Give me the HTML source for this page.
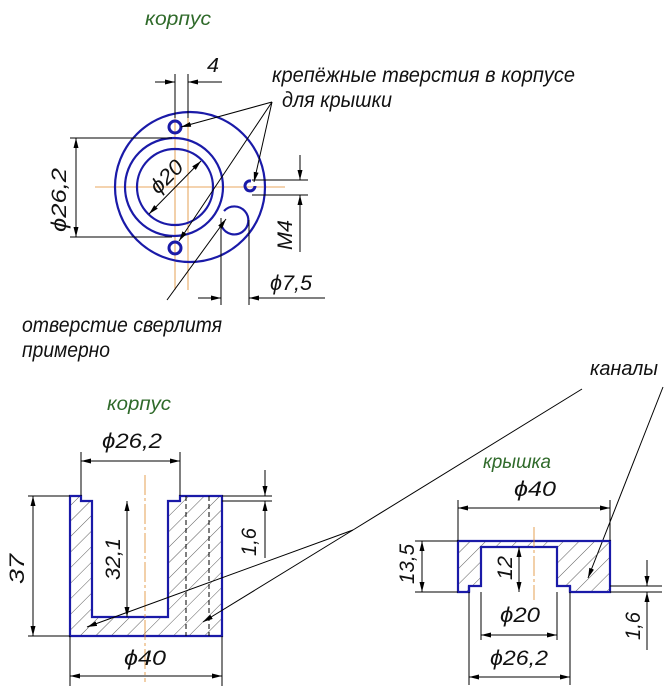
<!DOCTYPE html>
<html><head><meta charset="utf-8"><style>
html,body{margin:0;padding:0;background:#fff}
svg{display:block}
text{font-family:"Liberation Sans","Noto Sans CJK SC",sans-serif;font-style:italic;fill:#111}
.g{fill:#2f6a2a}
</style></head><body>
<svg width="667" height="687" viewBox="0 0 667 687" xmlns="http://www.w3.org/2000/svg">
<defs>
<marker id="a" viewBox="0 0 10 6" refX="10" refY="3" markerWidth="10" markerHeight="6" markerUnits="userSpaceOnUse" orient="auto-start-reverse"><path d="M0,0.5L10,3L0,5.5z" fill="#000"/></marker>
<pattern id="h" width="11" height="11" patternUnits="userSpaceOnUse" patternTransform="rotate(45)"><line x1="0" y1="0" x2="0" y2="11" stroke="#333" stroke-width="0.8"/></pattern>
</defs>
<g stroke="#000" stroke-width="1" fill="none">
<!-- TOP VIEW -->
<g stroke="#e08a2a" stroke-width="0.8">
<line x1="175" y1="95" x2="175" y2="290"/><line x1="188" y1="95" x2="188" y2="290"/>
<line x1="95" y1="187" x2="285" y2="187"/>
</g>
<g stroke="#1a1aa8" stroke-width="2.2">
<circle cx="190" cy="187" r="75"/>
<circle cx="174" cy="187" r="49"/>
<circle cx="175" cy="187" r="38"/>
<circle cx="175" cy="127" r="6" stroke-width="3"/>
<circle cx="175" cy="248" r="6" stroke-width="3"/>
<path d="M255,186 A5,5 0 1 1 251,181" stroke-width="3"/>
<path d="M224,211 A14,14 0 1 1 222,227"/>
</g>
<!-- dim 4 -->
<line x1="175" y1="74" x2="175" y2="118"/><line x1="188" y1="74" x2="188" y2="118"/>
<line x1="155" y1="82" x2="175" y2="82" marker-end="url(#a)"/><line x1="222" y1="82" x2="188" y2="82" marker-end="url(#a)"/>
<!-- dim 26,2 -->
<line x1="70" y1="138" x2="172" y2="138"/><line x1="70" y1="237" x2="172" y2="237"/>
<line x1="76" y1="138" x2="76" y2="237" marker-start="url(#a)" marker-end="url(#a)"/>
<!-- phi20 -->
<line x1="149" y1="214" x2="201" y2="161" marker-start="url(#a)" marker-end="url(#a)"/>
<!-- M4 -->
<line x1="252" y1="180" x2="308" y2="180"/><line x1="252" y1="195" x2="308" y2="195"/>
<line x1="300" y1="155" x2="300" y2="180" marker-end="url(#a)"/><line x1="300" y1="252" x2="300" y2="195" marker-end="url(#a)"/>
<!-- 7.5 -->
<line x1="221" y1="218" x2="221" y2="305"/><line x1="249" y1="220" x2="249" y2="305"/>
<line x1="198" y1="298" x2="221" y2="298" marker-end="url(#a)"/><line x1="325" y1="298" x2="249" y2="298" marker-end="url(#a)"/>
<!-- leaders -->
<line x1="272" y1="102" x2="181" y2="127" marker-end="url(#a)"/>
<line x1="272" y1="102" x2="254" y2="182" marker-end="url(#a)"/>
<line x1="272" y1="102" x2="179" y2="241" marker-end="url(#a)"/>
<line x1="167" y1="300" x2="226" y2="219" marker-end="url(#a)"/>

<!-- LEFT SECTION -->
<path d="M70,496H81V501H92V617H168V501H180V496H222V636H70Z" fill="url(#h)" stroke="#1a1aa8" stroke-width="2.2"/>
<line x1="186" y1="496" x2="186" y2="636" stroke-dasharray="5,3"/>
<line x1="209" y1="496" x2="209" y2="636" stroke-dasharray="5,3"/>
<line x1="145" y1="475" x2="145" y2="682" stroke="#e08a2a" stroke-width="0.8" stroke-dasharray="20,3,3,3"/>
<line x1="81" y1="452" x2="81" y2="496"/><line x1="180" y1="452" x2="180" y2="496"/>
<line x1="81" y1="461" x2="180" y2="461" marker-start="url(#a)" marker-end="url(#a)"/>
<line x1="28" y1="496" x2="70" y2="496"/><line x1="28" y1="636" x2="70" y2="636"/>
<line x1="33" y1="496" x2="33" y2="636" marker-start="url(#a)" marker-end="url(#a)"/>
<line x1="127" y1="501" x2="127" y2="617" marker-start="url(#a)" marker-end="url(#a)"/>
<line x1="222" y1="496" x2="272" y2="496"/><line x1="222" y1="501" x2="272" y2="501"/>
<line x1="265" y1="470" x2="265" y2="496" marker-end="url(#a)"/><line x1="265" y1="558" x2="265" y2="501" marker-end="url(#a)"/>
<line x1="70" y1="636" x2="70" y2="686"/><line x1="222" y1="636" x2="222" y2="686"/>
<line x1="70" y1="676" x2="222" y2="676" marker-start="url(#a)" marker-end="url(#a)"/>
<!-- kanaly leaders -->
<polyline points="582,389 353,530"/>
<line x1="353" y1="530" x2="87" y2="627" marker-end="url(#a)"/>
<line x1="353" y1="530" x2="203" y2="622" marker-end="url(#a)"/>
<line x1="663" y1="387" x2="588" y2="578" marker-end="url(#a)"/>

<!-- CAP SECTION -->
<path d="M458,541H610V592H570V586H557V547H481V586H469V592H458Z" fill="url(#h)" stroke="#1a1aa8" stroke-width="2.2"/>
<line x1="469" y1="586" x2="469" y2="592" stroke="#1a1aa8" stroke-width="2.2"/>
<line x1="570" y1="586" x2="570" y2="592" stroke="#1a1aa8" stroke-width="2.2"/>
<line x1="534" y1="527" x2="534" y2="600" stroke="#e08a2a" stroke-width="0.8" stroke-dasharray="20,3,3,3"/>
<line x1="458" y1="500" x2="458" y2="541"/><line x1="610" y1="500" x2="610" y2="541"/>
<line x1="458" y1="508" x2="610" y2="508" marker-start="url(#a)" marker-end="url(#a)"/>
<line x1="415" y1="541" x2="458" y2="541"/><line x1="415" y1="592" x2="458" y2="592"/>
<line x1="422" y1="541" x2="422" y2="592" marker-start="url(#a)" marker-end="url(#a)"/>
<line x1="519" y1="547" x2="519" y2="592" marker-start="url(#a)" marker-end="url(#a)"/>
<line x1="481" y1="592" x2="481" y2="640"/><line x1="557" y1="592" x2="557" y2="640"/>
<line x1="481" y1="635" x2="557" y2="635" marker-start="url(#a)" marker-end="url(#a)"/>
<line x1="469" y1="592" x2="469" y2="685"/><line x1="570" y1="592" x2="570" y2="685"/>
<line x1="469" y1="677" x2="570" y2="677" marker-start="url(#a)" marker-end="url(#a)"/>
<line x1="610" y1="586" x2="662" y2="586"/><line x1="610" y1="592" x2="662" y2="592"/>
<line x1="647" y1="560" x2="647" y2="586" marker-end="url(#a)"/><line x1="647" y1="650" x2="647" y2="592" marker-end="url(#a)"/>
</g>

<!-- TEXT -->
<text x="145" y="25" font-size="19" class="g" textLength="66" lengthAdjust="spacingAndGlyphs">корпус</text>
<text x="207" y="72" font-size="20" textLength="12" lengthAdjust="spacingAndGlyphs">4</text>
<text x="272" y="82" font-size="21" textLength="303" lengthAdjust="spacingAndGlyphs">крепёжные тверстия в корпусе</text>
<text x="282" y="107" font-size="21" textLength="110" lengthAdjust="spacingAndGlyphs">для крышки</text>
<text transform="translate(66,232) rotate(-90)" font-size="21" textLength="64" lengthAdjust="spacingAndGlyphs">ϕ26,2</text>
<text transform="translate(158,195) rotate(-45)" font-size="21" textLength="38" lengthAdjust="spacingAndGlyphs">ϕ20</text>
<text transform="translate(292,250) rotate(-90)" font-size="21" textLength="30" lengthAdjust="spacingAndGlyphs">M4</text>
<text x="270" y="290" font-size="21" textLength="42" lengthAdjust="spacingAndGlyphs">ϕ7,5</text>
<text x="22" y="332" font-size="21" textLength="200" lengthAdjust="spacingAndGlyphs">отверстие сверлитя</text>
<text x="22" y="357" font-size="21" textLength="88" lengthAdjust="spacingAndGlyphs">примерно</text>
<text x="107" y="410" font-size="19" class="g" textLength="64" lengthAdjust="spacingAndGlyphs">корпус</text>
<text x="590" y="375" font-size="20" textLength="68" lengthAdjust="spacingAndGlyphs">каналы</text>
<text x="102" y="448" font-size="21" textLength="60" lengthAdjust="spacingAndGlyphs">ϕ26,2</text>
<text transform="translate(24,584) rotate(-90)" font-size="21" textLength="30" lengthAdjust="spacingAndGlyphs">37</text>
<text transform="translate(120,580) rotate(-90)" font-size="21" textLength="42" lengthAdjust="spacingAndGlyphs">32,1</text>
<text transform="translate(256,556) rotate(-90)" font-size="21" textLength="28" lengthAdjust="spacingAndGlyphs">1,6</text>
<text x="124" y="665" font-size="21" textLength="42" lengthAdjust="spacingAndGlyphs">ϕ40</text>
<text x="483" y="468" font-size="19" class="g" textLength="68" lengthAdjust="spacingAndGlyphs">крышка</text>
<text x="514" y="496" font-size="21" textLength="42" lengthAdjust="spacingAndGlyphs">ϕ40</text>
<text transform="translate(414,584) rotate(-90)" font-size="21" textLength="40" lengthAdjust="spacingAndGlyphs">13,5</text>
<text transform="translate(512,580) rotate(-90)" font-size="21" textLength="24" lengthAdjust="spacingAndGlyphs">12</text>
<text x="500" y="622" font-size="21" textLength="40" lengthAdjust="spacingAndGlyphs">ϕ20</text>
<text x="490" y="665" font-size="21" textLength="58" lengthAdjust="spacingAndGlyphs">ϕ26,2</text>
<text transform="translate(640,640) rotate(-90)" font-size="21" textLength="28" lengthAdjust="spacingAndGlyphs">1,6</text>
</svg>
</body></html>
